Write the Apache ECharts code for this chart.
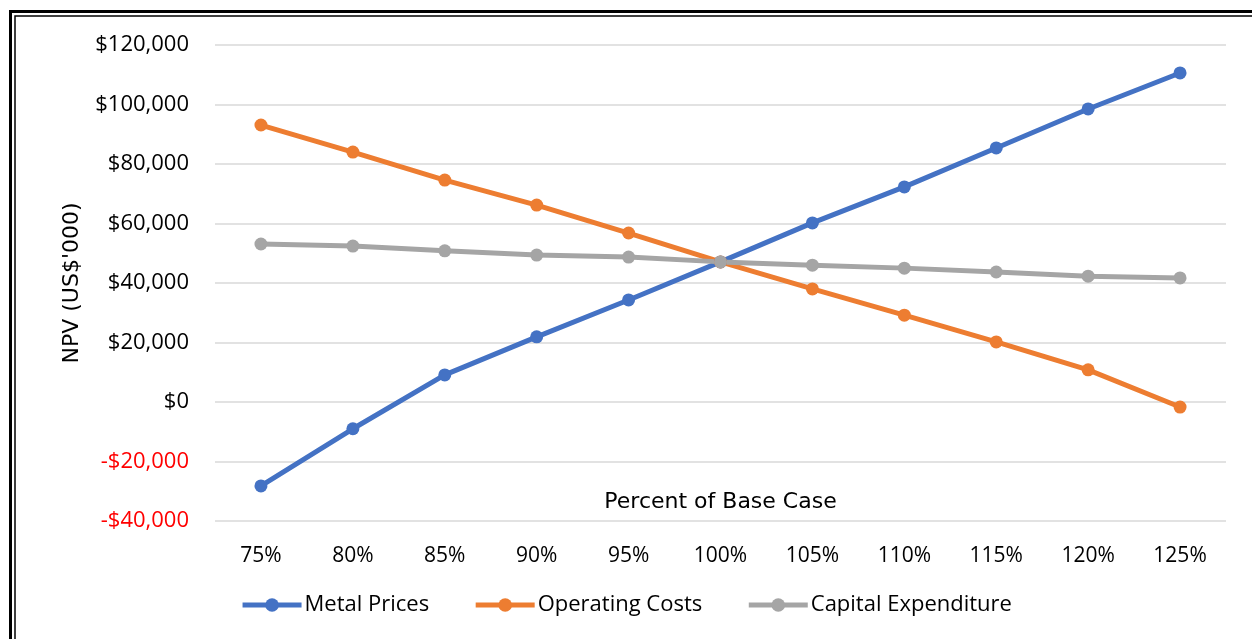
<!DOCTYPE html>
<html>
<head>
<meta charset="utf-8">
<script src="https://cdn.jsdelivr.net/npm/echarts@6/dist/echarts.min.js"></script>
<style>
  html, body { margin: 0; padding: 0; background: #fff; }
  #chart { width: 1252px; height: 639px; }
</style>
</head>
<body>
<div id="chart"></div>
<script>
// Sensitivity of NPV to changes in key inputs (US$'000)
const categories = ['75%', '80%', '85%', '90%', '95%', '100%', '105%', '110%', '115%', '120%', '125%'];
const metalPrices = [-28200, -9000, 9100, 21900, 34300, 47100, 60200, 72300, 85400, 98500, 110600];
const operatingCosts = [93100, 84000, 74600, 66200, 56800, 47100, 38000, 29200, 20200, 10800, -1700];
const capitalExpenditure = [53100, 52400, 50800, 49400, 48700, 47100, 46000, 45000, 43700, 42300, 41700];
const yMin = -40000, yMax = 120000, yStep = 20000;

const FONT = '"Open Sans", Lato, sans-serif';
const TITLE_FONT = '"DejaVu Sans", sans-serif';

const GRID = { left: 215, right: 26, top: 45, bottom: 118 };

function money(v) {
  const s = '$' + Math.abs(v).toLocaleString('en-US');
  return v < 0 ? '-' + s : s;
}

function lineSeries(name, data, color) {
  return {
    name, type: 'line', data,
    symbol: 'circle', symbolSize: 13,
    lineStyle: { width: 5, color },
    itemStyle: { color },
    emphasis: { disabled: true }
  };
}

const chart = echarts.init(document.getElementById('chart'));
const plotCenterX = GRID.left + (1252 - GRID.left - GRID.right) / 2;

chart.setOption({
  animation: false,
  color: ['#4472C4', '#ED7D31', '#A5A5A5'],
  textStyle: { fontFamily: FONT },
  graphic: [
    // double frame round the chart
    { type: 'rect', shape: { x: 10.5, y: 11.5, width: 1400, height: 800 },
      style: { fill: 'none', stroke: '#000', lineWidth: 3 }, silent: true },
    { type: 'rect', shape: { x: 15, y: 16, width: 1400, height: 800 },
      style: { fill: 'none', stroke: '#000', lineWidth: 1.5 }, silent: true },
    // horizontal axis title, sitting inside the plot above the bottom gridline
    { type: 'text', x: plotCenterX, y: 502, silent: true,
      style: { text: 'Percent of Base Case', fill: '#000', fontSize: 22,
               fontFamily: TITLE_FONT, align: 'center', verticalAlign: 'middle' } }
  ],
  grid: GRID,
  legend: {
    top: 589, left: 'center',
    itemWidth: 59, itemHeight: 17, itemGap: 44,
    lineStyle: { width: 5 },
    textStyle: { fontSize: 22, color: '#000', fontFamily: FONT, padding: [0, 0, 0, -2] },
    data: ['Metal Prices', 'Operating Costs', 'Capital Expenditure']
  },
  xAxis: {
    type: 'category', data: categories, boundaryGap: true,
    axisLine: { show: false }, axisTick: { show: false },
    axisLabel: { fontSize: 21, color: '#000', margin: 25, fontFamily: FONT }
  },
  yAxis: {
    type: 'value', min: yMin, max: yMax, interval: yStep,
    name: "NPV (US$'000)", nameLocation: 'middle', nameGap: 132, nameRotate: 90,
    nameTextStyle: { fontSize: 22, color: '#000', fontFamily: TITLE_FONT },
    axisLine: { show: false }, axisTick: { show: false },
    axisLabel: {
      fontSize: 22, margin: 26, fontFamily: FONT,
      formatter: v => money(v),
      color: v => (v < 0 ? '#FF0000' : '#000')
    },
    splitLine: { lineStyle: { color: '#D9D9D9', width: 1.5 } }
  },
  series: [
    lineSeries('Metal Prices', metalPrices, '#4472C4'),
    lineSeries('Operating Costs', operatingCosts, '#ED7D31'),
    lineSeries('Capital Expenditure', capitalExpenditure, '#A5A5A5')
  ]
});
</script>
</body>
</html>
